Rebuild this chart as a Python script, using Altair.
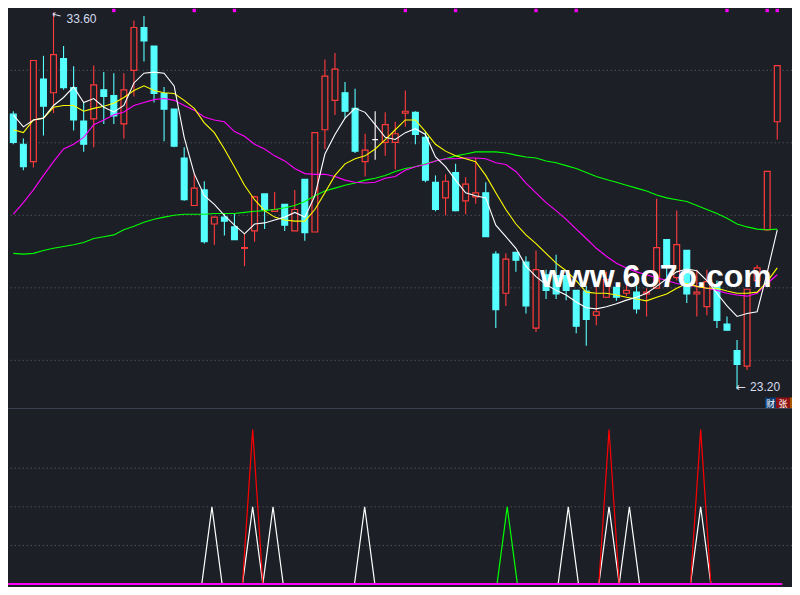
import altair as alt
import pandas as pd

BG = "#1d1f27"
RED = "#ff3b3b"
CYAN = "#55ffff"
GRID = "#4a4e59"

# ---- daily candles (price) ----
opens = [30.79, 29.96, 29.48, 31.76, 31.38, 32.32, 31.52, 30.60, 30.66, 31.46,
         31.30, 30.52, 32.00, 33.18, 32.67, 31.36, 30.93, 29.58, 28.27, 28.70,
         27.76, 27.95, 27.68, 27.09, 27.57, 28.59, 28.11, 28.30, 27.57, 28.99,
         27.54, 30.36, 31.17, 31.38, 30.95, 29.48, 30.09, 30.01, 30.01, 30.82,
         30.84, 30.15, 28.91, 28.48, 29.18, 28.40, 28.51, 28.62, 26.93, 25.85,
         26.98, 26.71, 24.89, 26.36, 26.34, 26.34, 25.93, 25.91, 25.24, 25.74,
         26.01, 25.85, 25.88, 25.83, 25.99, 27.33, 26.28, 27.03, 25.83, 25.48,
         26.07, 25.00, 24.27, 23.84, 26.20, 27.60, 30.58]
closes = [30.01, 29.34, 32.27, 31.01, 32.43, 31.52, 30.63, 29.96, 31.60, 31.28,
          30.74, 31.46, 33.18, 32.81, 31.36, 30.93, 29.91, 28.43, 28.75, 27.27,
          27.95, 27.84, 27.33, 27.11, 28.51, 28.16, 28.16, 27.73, 28.16, 27.52,
          30.28, 31.84, 32.03, 30.87, 29.77, 29.80, 30.09, 30.50, 30.25, 30.87,
          30.23, 28.97, 28.16, 28.94, 28.13, 28.86, 28.62, 27.41, 25.40, 26.79,
          26.76, 25.50, 26.50, 25.93, 25.83, 25.93, 24.94, 25.13, 25.34, 26.23,
          25.74, 25.93, 25.42, 25.88, 27.11, 26.63, 27.19, 25.83, 25.88, 26.17,
          25.10, 24.83, 23.89, 25.96, 26.55, 29.21, 32.13]
highs = [30.87, 30.12, 32.27, 32.40, 33.60, 32.67, 32.11, 31.11, 32.13, 31.95,
         31.92, 31.92, 33.37, 33.50, 32.67, 31.54, 30.93, 29.88, 29.15, 28.94,
         27.97, 28.05, 28.05, 27.49, 28.54, 28.59, 28.64, 28.30, 28.70, 28.99,
         30.28, 32.30, 32.48, 31.68, 31.49, 30.25, 30.87, 30.84, 30.58, 31.44,
         30.87, 30.31, 29.10, 29.13, 29.42, 29.05, 29.58, 28.91, 27.01, 26.95,
         26.98, 26.87, 27.03, 26.50, 26.91, 26.34, 25.93, 26.06, 26.12, 26.44,
         26.01, 26.39, 26.06, 25.99, 28.46, 27.33, 28.13, 27.03, 26.50, 26.50,
         26.20, 25.21, 24.56, 25.96, 26.63, 29.21, 32.13]
lows = [29.96, 29.24, 29.32, 30.20, 30.82, 31.46, 30.34, 29.75, 29.88, 30.52,
        30.52, 30.12, 31.28, 32.24, 31.11, 30.04, 29.88, 28.40, 28.27, 27.22,
        27.19, 27.44, 27.33, 26.60, 27.27, 27.62, 28.11, 27.57, 27.57, 27.30,
        27.54, 29.83, 30.77, 30.68, 29.72, 29.07, 29.53, 29.64, 29.26, 30.44,
        29.96, 28.91, 28.11, 28.00, 28.11, 28.03, 28.32, 27.41, 24.89, 25.50,
        26.44, 25.29, 24.78, 25.69, 25.69, 25.66, 24.75, 24.40, 24.97, 25.72,
        25.64, 25.77, 25.29, 25.21, 25.99, 26.28, 26.20, 25.58, 25.21, 25.24,
        24.89, 24.83, 23.20, 23.73, 26.17, 27.57, 30.09]

# ---- moving averages ----
ma5 = [30.77, 30.44, 30.63, 30.68, 31.03, 31.25, 31.54, 31.11, 31.22, 30.98,
       30.85, 31.03, 31.65, 31.92, 31.95, 31.92, 31.57, 30.15, 29.15, 28.54,
       28.30, 28.00, 27.73, 27.49, 27.76, 27.79, 27.87, 27.95, 28.08, 27.95,
       28.54, 29.69, 30.23, 30.68, 30.95, 30.84, 30.50, 30.15, 30.09, 30.28,
       30.39, 30.23, 29.61, 29.34, 28.97, 28.62, 28.54, 28.48, 27.73, 27.41,
       27.09, 26.60, 26.31, 26.09, 25.93, 25.80, 25.61, 25.45, 25.42, 25.48,
       25.56, 25.66, 25.74, 25.85, 26.04, 26.25, 26.44, 26.52, 26.47, 26.20,
       25.85, 25.50, 25.21, 25.29, 25.34, 26.42, 27.60]
ma10 = [30.36, 30.28, 30.63, 30.68, 30.98, 31.03, 31.03, 30.87, 30.95, 31.01,
        31.09, 31.25, 31.44, 31.57, 31.44, 31.38, 31.36, 31.17, 30.95, 30.55,
        30.28, 29.83, 29.34, 28.83, 28.43, 28.13, 27.95, 27.87, 27.84, 27.84,
        28.16, 28.62, 29.10, 29.42, 29.56, 29.64, 29.83, 30.09, 30.36, 30.63,
        30.63, 30.31, 29.96, 29.77, 29.64, 29.56, 29.48, 29.10, 28.62, 28.16,
        27.76, 27.46, 27.22, 26.95, 26.68, 26.47, 26.20, 25.88, 25.85, 25.85,
        25.80, 25.74, 25.69, 25.64, 25.74, 25.83, 25.99, 26.12, 26.04, 25.99,
        25.99, 25.91, 25.85, 25.85, 25.88, 26.17, 26.55]
ma20 = [28.03, 28.35, 28.70, 29.10, 29.48, 29.83, 29.96, 30.15, 30.50, 30.63,
        30.77, 30.85, 31.03, 31.11, 31.19, 31.22, 31.17, 31.03, 30.90, 30.71,
        30.63, 30.58, 30.31, 30.18, 29.96, 29.83, 29.64, 29.50, 29.29, 29.15,
        29.13, 29.13, 29.07, 28.97, 28.91, 28.89, 28.91, 29.02, 29.07, 29.24,
        29.34, 29.40, 29.50, 29.56, 29.56, 29.58, 29.58, 29.56, 29.45, 29.40,
        29.21, 28.89, 28.62, 28.35, 28.13, 27.89, 27.62, 27.36, 27.09, 26.87,
        26.68, 26.55, 26.44, 26.36, 26.28, 26.20, 26.12, 26.07, 26.04, 25.99,
        25.93, 25.85, 25.80, 25.77, 25.85, 26.12, 26.36]
ma60 = [26.95, 26.93, 26.95, 27.03, 27.09, 27.14, 27.19, 27.25, 27.36, 27.41,
        27.46, 27.60, 27.70, 27.81, 27.89, 27.95, 28.00, 28.03, 28.03, 28.03,
        28.05, 28.05, 28.05, 28.08, 28.11, 28.13, 28.16, 28.21, 28.27, 28.38,
        28.54, 28.67, 28.75, 28.83, 28.89, 28.97, 29.02, 29.10, 29.21, 29.29,
        29.34, 29.42, 29.50, 29.56, 29.64, 29.69, 29.75, 29.75, 29.75, 29.72,
        29.66, 29.61, 29.58, 29.50, 29.45, 29.37, 29.29, 29.18, 29.07, 28.99,
        28.91, 28.83, 28.75, 28.67, 28.56, 28.48, 28.43, 28.38, 28.27, 28.16,
        28.05, 27.92, 27.76, 27.68, 27.62, 27.60, 27.62]

# ---- signal panel ----
white_peaks = [20, 24, 26, 35, 55, 59, 61, 68]
white_height = 2
red_peaks = [24, 59, 68]
red_height = 4
green_peaks = [49]
green_height = 2
marker_days = [10, 18, 22, 39, 44, 52, 56, 71, 75, 76]
price_grid = [24, 26, 28, 30, 32]
signal_grid = [1, 2, 3]

W, H_TOP, H_BOT = 784, 400, 179
n = len(opens)
idx = list(range(n))

kind = ["up" if c > o else ("down" if c < o else "flat") for o, c in zip(opens, closes)]
candles = pd.DataFrame({"i": idx, "open": opens, "close": closes,
                        "high": highs, "low": lows, "kind": kind})

xscale = alt.Scale(domain=[-0.03, 76.97], nice=False, zero=False)
pscale = alt.Scale(domain=[22.685, 33.718], nice=False, zero=False)
sscale = alt.Scale(domain=[-0.076, 4.557], nice=False, zero=False)
X = alt.X("i:Q", scale=xscale, axis=None)
stroke_sc = alt.Scale(domain=["up", "down", "flat"], range=[RED, CYAN, "#ffffff"])
fill_sc = alt.Scale(domain=["up", "down", "flat"], range=[BG, CYAN, "#ffffff"])

grid_top = alt.Chart(pd.DataFrame({"p": price_grid})).mark_rule(
    color=GRID, strokeDash=[1.5, 2.5], strokeWidth=1, clip=True
).encode(y=alt.Y("p:Q", scale=pscale, axis=None))

wicks = alt.Chart(candles).mark_rule(strokeWidth=1.1, clip=True).encode(
    x=X, y=alt.Y("high:Q", scale=pscale, axis=None), y2="low:Q",
    color=alt.Color("kind:N", scale=stroke_sc, legend=None))

bodies = alt.Chart(candles).mark_bar(size=5.8, strokeWidth=1.2, clip=True).encode(
    x=X, y=alt.Y("open:Q", scale=pscale, axis=None), y2="close:Q",
    fill=alt.Fill("kind:N", scale=fill_sc, legend=None),
    stroke=alt.Stroke("kind:N", scale=stroke_sc, legend=None))


def ma_line(vals, color):
    df = pd.DataFrame({"i": idx, "v": vals})
    return alt.Chart(df).mark_line(color=color, strokeWidth=1.1, clip=True).encode(
        x=X, y=alt.Y("v:Q", scale=pscale, axis=None))


lines = [ma_line(ma60, "#00ff00"), ma_line(ma20, "#ff00ff"),
         ma_line(ma10, "#ffff00"), ma_line(ma5, "#ffffff")]

i_hi = highs.index(max(highs))
i_lo = lows.index(min(lows))
hi_df = pd.DataFrame({"i": [i_hi], "p": [max(highs)], "t": [f"{max(highs):.2f}"]})
lo_df = pd.DataFrame({"i": [i_lo], "p": [min(lows)], "t": [f"{min(lows):.2f}"]})
LBL = "#d3ddef"

hi_arrow = alt.Chart(hi_df).mark_text(
    text="←", align="left", baseline="middle", angle=14, fontSize=11,
    font="DejaVu Sans", color=LBL, dx=-1, dy=2.5
).encode(x=X, y=alt.Y("p:Q", scale=pscale, axis=None))
hi_text = alt.Chart(hi_df).mark_text(
    align="left", baseline="middle", fontSize=12, font="Liberation Sans",
    color=LBL, dx=13, dy=6.5
).encode(x=X, y=alt.Y("p:Q", scale=pscale, axis=None), text="t:N")
lo_arrow = alt.Chart(lo_df).mark_text(
    text="←", align="left", baseline="middle", fontSize=12,
    font="DejaVu Sans", color=LBL, dx=-1, dy=-2.5
).encode(x=X, y=alt.Y("p:Q", scale=pscale, axis=None))
lo_text = alt.Chart(lo_df).mark_text(
    align="left", baseline="middle", fontSize=12, font="Liberation Sans",
    color=LBL, dx=13, dy=-2.5
).encode(x=X, y=alt.Y("p:Q", scale=pscale, axis=None), text="t:N")

markers = alt.Chart(pd.DataFrame({"i": marker_days})).mark_square(
    size=11, color="#ff00ff", opacity=1, clip=True
).encode(x=X, y=alt.value(2.5))

watermark = alt.Chart(pd.DataFrame({"t": ["www.6o7o.com"]})).mark_text(
    align="left", baseline="alphabetic", fontSize=32, fontWeight="bold",
    font="Liberation Sans", color="#ffffff", clip=True
).encode(x=alt.value(532), y=alt.value(279), text="t:N")

badges = pd.DataFrame({"x1": [757, 768, 782], "x2": [768, 782, 796],
                       "bg": ["#0d3c74", "#8e1010", "#a65a08"]})
badge_chars = pd.DataFrame({"t": ["财", "张"], "x1": [757.5, 770]})
badge_rect = alt.Chart(badges).mark_rect(clip=True).encode(
    x=alt.X("x1:Q", scale=None, axis=None), x2="x2:Q",
    y=alt.value(389.5), y2=alt.value(400),
    fill=alt.Fill("bg:N", scale=None))
badge_text = alt.Chart(badge_chars).mark_text(
    fontSize=9, font="Noto Sans CJK SC", color="#ffffff", baseline="middle",
    align="left", dx=0.5, clip=True
).encode(x=alt.X("x1:Q", scale=None, axis=None), y=alt.value(395.5), text="t:N")

top = alt.layer(grid_top, wicks, bodies, *lines, hi_arrow, hi_text, lo_arrow,
                lo_text, markers, watermark, badge_rect, badge_text
                ).properties(width=W, height=H_TOP)

# ---- lower panel ----
def spike_series(peaks, h):
    return [h if i in peaks else 0 for i in idx]


def spike_line(peaks, h, color):
    df = pd.DataFrame({"i": idx, "v": spike_series(peaks, h)})
    return alt.Chart(df).mark_line(color=color, strokeWidth=1.2, clip=True).encode(
        x=X, y=alt.Y("v:Q", scale=sscale, axis=None))


grid_bot = alt.Chart(pd.DataFrame({"s": signal_grid})).mark_rule(
    color=GRID, strokeDash=[1.5, 2.5], strokeWidth=1, clip=True
).encode(y=alt.Y("s:Q", scale=sscale, axis=None))
sep = alt.Chart(pd.DataFrame({"a": [0]})).mark_rule(
    color="#3b414e", strokeWidth=1, clip=True
).encode(y=alt.value(0.5))
base = alt.Chart(pd.DataFrame({"i": [0], "i2": [n - 1], "s": [0]})).mark_rule(
    color="#ff00ff", strokeWidth=2, clip=True
).encode(x=X, x2="i2:Q", y=alt.Y("s:Q", scale=sscale, axis=None))

bottom = alt.layer(
    grid_bot, sep,
    spike_line(white_peaks, white_height, "#ffffff"),
    spike_line(green_peaks, green_height, "#00ff00"),
    spike_line(red_peaks, red_height, "#ff0000"),
    base
).properties(width=W, height=H_BOT)

chart = alt.vconcat(top, bottom, spacing=0, padding=0).properties(
    background=BG
).configure(padding=0).configure_view(stroke=None)

chart.save("out.html", embed_options={"renderer": "svg", "actions": False})
